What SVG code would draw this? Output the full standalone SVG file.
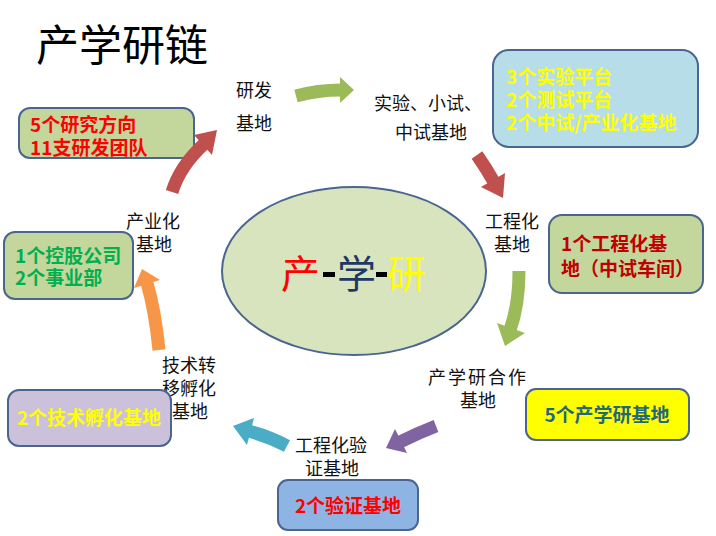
<svg xmlns="http://www.w3.org/2000/svg" width="716" height="536" viewBox="0 0 716 536">
<style>
.lbl{font-family:"Noto Sans CJK SC","Liberation Sans",sans-serif;font-size:18px;fill:#111}
.bt{font-family:"Noto Sans CJK SC","Liberation Sans",sans-serif;font-weight:bold;font-size:19px}
.box{stroke:#4a6590;stroke-width:2}
.shaft{fill:none;stroke-width:13;stroke-linecap:butt}
.big{font-family:"Noto Sans CJK SC",sans-serif;font-size:39px}
.dash{fill:#000}
</style>
<rect width="716" height="536" fill="#ffffff"/>
<text x="36" y="61" font-family="'Noto Sans CJK SC',sans-serif" font-size="43" fill="#000">产学研链</text>

<g id="core">
<ellipse cx="354" cy="271" rx="132" ry="84" fill="#d7e4bd" stroke="#4a6590" stroke-width="2"/>
<text class="big" x="281" y="288" fill="#ff0000">产</text>
<rect class="dash" x="323" y="272" width="12" height="5"/>
<text class="big" x="337" y="288" fill="#1f3864">学</text>
<rect class="dash" x="376" y="272" width="11" height="5"/>
<text class="big" x="387" y="288" fill="#ffff00">研</text>
</g>

<g id="rd">
<text class="lbl" x="236" y="97">研发</text>
<text class="lbl" x="236" y="130">基地</text>
</g>
<g id="pilot">
<text class="lbl" x="374" y="110">实验、小试、</text>
<text class="lbl" x="395" y="139">中试基地</text>
</g>
<g id="eng">
<text class="lbl" x="485" y="228">工程化</text>
<text class="lbl" x="494" y="251">基地</text>
</g>
<g id="coop">
<text class="lbl" x="428" y="384" letter-spacing="2">产学研合作</text>
<text class="lbl" x="460" y="407">基地</text>
</g>
<g id="verify">
<text class="lbl" x="295" y="452">工程化验</text>
<text class="lbl" x="305" y="475">证基地</text>
</g>
<g id="incub">
<text class="lbl" x="162" y="372">技术转</text>
<text class="lbl" x="162" y="395">移孵化</text>
<text class="lbl" x="172" y="418">基地</text>
</g>
<g id="indus">
<text class="lbl" x="126" y="228">产业化</text>
<text class="lbl" x="136" y="251">基地</text>
</g>

<g id="box-rd">
<rect class="box" x="19" y="108" width="175" height="50" rx="11" fill="#c3d69b"/>
<text class="bt" x="30" y="132" fill="#ff0000">5个研究方向</text>
<text class="bt" x="30" y="155" fill="#ff0000">11支研发团队</text>
</g>
<g id="box-pilot">
<rect class="box" x="493" y="50" width="205" height="97" rx="16" fill="#b7dee8"/>
<text class="bt" x="506" y="84" fill="#ffff00">3个实验平台</text>
<text class="bt" x="506" y="107" fill="#ffff00">2个测试平台</text>
<text class="bt" x="506" y="130" fill="#ffff00">2个中试/产业化基地</text>
</g>
<g id="box-eng">
<rect class="box" x="549" y="215" width="154" height="78" rx="13" fill="#c3d69b"/>
<text class="bt" x="561" y="251" fill="#c00000">1个工程化基</text>
<text class="bt" x="561" y="276" fill="#c00000">地（中试车间）</text>
</g>
<g id="box-coop">
<rect class="box" x="526" y="389" width="163" height="51" rx="10" fill="#ffff00"/>
<text class="bt" x="607" y="422" text-anchor="middle" fill="#23687a">5个产学研基地</text>
</g>
<g id="box-verify">
<rect class="box" x="278" y="480" width="140" height="50" rx="10" fill="#8eb4e3"/>
<text class="bt" x="348" y="513" text-anchor="middle" fill="#ff0000">2个验证基地</text>
</g>
<g id="box-incub">
<rect class="box" x="8" y="390" width="163" height="56" rx="11" fill="#ccc1da"/>
<text class="bt" x="89" y="425" text-anchor="middle" fill="#ffff00" font-size="18">2个技术孵化基地</text>
</g>
<g id="box-indus">
<rect class="box" x="4" y="232" width="129" height="67" rx="11" fill="#c3d69b"/>
<text class="bt" x="15" y="263" fill="#00b050" font-size="17">1个控股公司</text>
<text class="bt" x="15" y="285" fill="#00b050" font-size="17">2个事业部</text>
</g>

<g id="connectors">
<path class="shaft" d="M296,96 Q318,90 341,90" stroke="#9bbb59"/>
<polygon points="340,77 354,90 340,103" fill="#9bbb59"/>

<path class="shaft" d="M477,155 Q486,168 494,182" stroke="#c0504d"/>
<polygon points="481,187 505,173 503,198" fill="#c0504d"/>

<path class="shaft" d="M519,271 Q519,305 510,330" stroke="#9bbb59"/>
<polygon points="497,323 525,333 505,346" fill="#9bbb59"/>

<path class="shaft" d="M436,426 Q418,433 400,442" stroke="#8064a2"/>
<polygon points="395,429 407,453 386,448" fill="#8064a2"/>

<path class="shaft" d="M287,446 Q268,436 248,431" stroke="#4bacc6"/>
<polygon points="233,426 254,418 247,445" fill="#4bacc6"/>

<path class="shaft" d="M159,350 Q155,310 147,283" stroke="#f79646"/>
<polygon points="142,269 134,288 160,280" fill="#f79646"/>

<path class="shaft" d="M172,192 Q180,166 204,144" stroke="#c0504d"/>
<polygon points="194,135 217,130 212,155" fill="#c0504d"/>
</g>
</svg>
